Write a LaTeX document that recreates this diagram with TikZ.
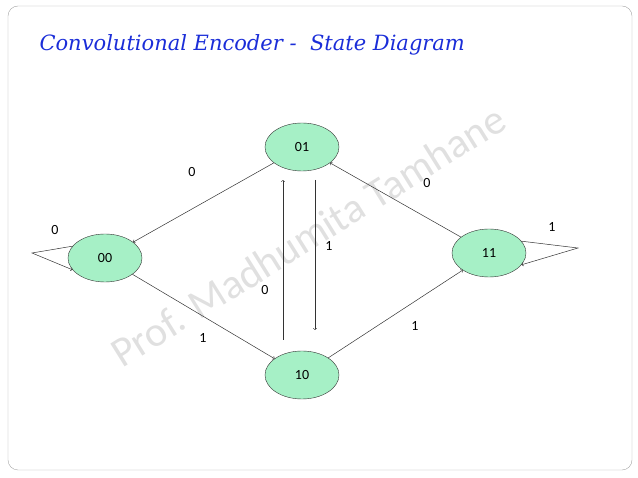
\documentclass[tikz,border=0pt]{standalone}
\usepackage{fontspec}
\setmainfont{Carlito}
\usetikzlibrary{shapes.geometric}
\definecolor{nodegreen}{HTML}{A6F0C6}
\definecolor{titleblue}{HTML}{1A2DD8}
\begin{document}
\begin{tikzpicture}[x=1pt,y=-1pt,
  st/.style={ellipse,draw=black!80,fill=nodegreen,minimum width=74pt,minimum height=48pt,inner sep=0pt,font=\fontsize{14}{16}\selectfont},
  lab/.style={font=\fontsize{14}{16}\selectfont},
  ed/.style={draw=black!80,line width=0.5pt,-to}]
\useasboundingbox (0,0) rectangle (638,478);
\draw[black!35,rounded corners=10pt] (8,6) rectangle (632,470);
\node[anchor=west,text=titleblue,font=\itshape\fontspec{DejaVu Serif}\fontsize{21}{24}\selectfont] (title) at (36,45) {Convolutional Encoder -\ \ State Diagram};
\node[rotate=32,text=black!12,font=\fontsize{42}{48}\selectfont] (wm) at (308,236) {Prof. Madhumita Tamhane};
\node[st] (s01) at (302,147) {01};
\node[st] (s00) at (105,258) {00};
\node[st] (s11) at (489,253) {11};
\node[st] (s10) at (302,375) {10};
\draw[ed] (s01) -- (s00);
\draw[ed] (s11) -- (s01);
\draw[ed] (s00) -- (s10);
\draw[ed] (s10) -- (s11);
\coordinate (a1) at (283,340); \coordinate (a2) at (283,180);
\coordinate (b1) at (315,180); \coordinate (b2) at (315,330);
\draw[ed] (a1) -- (a2);
\draw[ed] (b1) -- (b2);
\coordinate (l0) at (32,253); \coordinate (r1) at (578,248);
\draw[ed] (s00.160) -- (l0) -- (s00.200);
\draw[ed] (s11.20) -- (r1) -- (s11.340);
\node[lab] (t1) at (192,172) {0};
\node[lab] (t2) at (427,183) {0};
\node[lab] (t3) at (203,338) {1};
\node[lab] (t4) at (415,326) {1};
\node[lab] (t5) at (265,290) {0};
\node[lab] (t6) at (329,246) {1};
\node[lab] (t7) at (55,230) {0};
\node[lab] (t8) at (552,227) {1};
\end{tikzpicture}
\end{document}
